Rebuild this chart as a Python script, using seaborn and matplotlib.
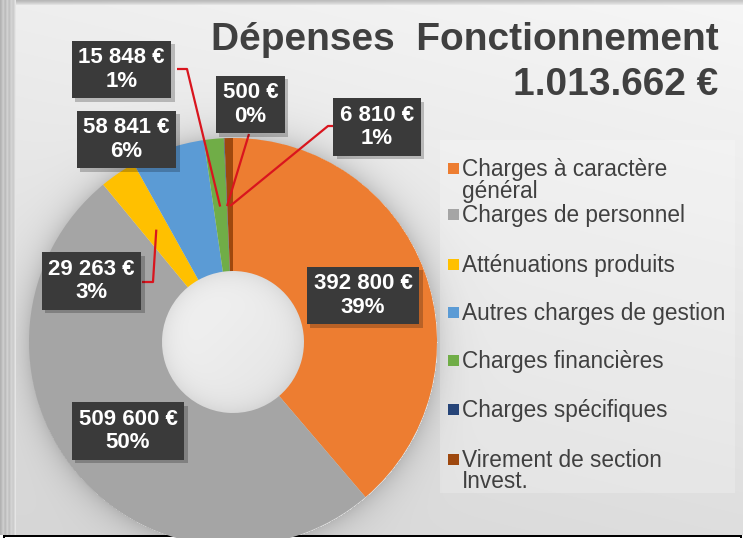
import numpy as np
import matplotlib
matplotlib.use("Agg")
import matplotlib.pyplot as plt
import matplotlib.patheffects as pe
import seaborn as sns
from matplotlib.patches import Rectangle

# ---------------- data ----------------
categories = ["Charges à caractère général", "Charges de personnel", "Atténuations produits",
              "Autres charges de gestion", "Charges financières", "Charges spécifiques",
              "Virement de section Invest."]
legend_labels = ["Charges à caractère\ngénéral", "Charges de personnel", "Atténuations produits",
                 "Autres charges de gestion", "Charges financières", "Charges spécifiques",
                 "Virement de section\nInvest."]
values = [392800, 509600, 29263, 58841, 15848, 500, 6810]
pct_labels = ["39%", "50%", "3%", "6%", "1%", "0%", "1%"]
colors = ["#ED7D31", "#A5A5A5", "#FFC000", "#5B9BD5", "#70AD47", "#264478", "#9E480E"]
title_line1 = "Dépenses  Fonctionnement"
title_line2 = "1.013.662 €"

# ---------------- layout (pixel coordinates, y from top) ----------------
W, H = 743, 538
CX, CY = 233, 342
R_OUT, R_IN = 204, 71
label_centers = [(363, 295.5), (128, 431), (91.5, 281), (126.5, 139.5),
                 (121.5, 69.5), (250.5, 104.5), (377, 127)]
leader_starts = {2: [(142, 282), (153, 282)], 4: [(177, 69), (187, 69)],
                 5: [(249, 134)], 6: [(333, 126), (328, 126)]}
legend_line_baselines = [[176, 198], [222], [272], [320], [368], [417], [467, 488]]

sns.set_theme(style="white")
plt.rcParams["font.family"] = ["Liberation Sans", "DejaVu Sans"]
palette = sns.color_palette(colors)

fig = plt.figure(figsize=(W / 100, H / 100), dpi=100)
ax = fig.add_axes([0, 0, 1, 1])


def Y(y):
    return H - y


# ---------------- background image ----------------
yy, xx = np.mgrid[0:H, 0:W].astype(float)
v = 0.75 * (1 - yy / 533) + 0.25 * (xx / 743)
bg = 0.84 + v * (0.965 - 0.84)
# donut shadow
d = np.hypot(xx - CX, yy - CY)
sh = np.where(d > R_OUT, 0.16 * np.exp(-(d - R_OUT) / 14.0), 0.0)
bg = bg * (1 - sh)
# hole shading
t = ((xx - CX) + (yy - CY)) / (2 * R_IN)
hole = 0.925 - 0.035 * t - 0.07 * np.clip(d / R_IN, 0, 1) ** 6
bg = np.where(d < R_IN + 1, hole, bg)
# left strip and top strip
stripes = np.array([0.70, 0.73, 0.78, 0.80, 0.76, 0.74, 0.79, 0.82, 0.78,
                    0.76, 0.80, 0.83, 0.81, 0.80, 0.85, 0.90])
for i, s in enumerate(stripes):
    bg[:535, i] = s
for j, s in enumerate([0.72, 0.75, 0.79, 0.83, 0.88]):
    bg[j, 16:] = s + (1 - s) * 0.2 * (np.arange(16, W) / W)
# bottom strip
bg[535:, :] = 1.0
bg[535:537, 3:742] = 0.0
bg[535:, 3:5] = 0.0
bg[535:, 740:742] = 0.0
rgb = np.dstack([bg, bg, bg])
ax.imshow(rgb, extent=(0, W, 0, H), origin="upper", zorder=0, interpolation="bilinear")

# legend panel (slightly lighter)
ax.add_patch(Rectangle((440, Y(493)), 295, 353, facecolor="white", alpha=0.22,
                       edgecolor="none", zorder=1))

# ---------------- donut ----------------
wedges, _ = ax.pie(values, colors=palette, startangle=90, counterclock=False,
                   radius=R_OUT, center=(CX, Y(CY)),
                   wedgeprops=dict(width=R_OUT - R_IN, edgecolor="none"))
for w in wedges:
    w.set_zorder(2)
ax.set_xlim(0, W)
ax.set_ylim(0, H)
ax.set_aspect("auto")
ax.axis("off")

# ---------------- data labels ----------------
total = float(sum(values))
fr = np.array(values) / total
mid = np.cumsum(fr) - fr / 2
theta = np.deg2rad(90 - 360 * mid)
r_anchor = 0.667 * R_OUT
for i, (val, pct) in enumerate(zip(values, pct_labels)):
    cx, cy = label_centers[i]
    txt = f"{val:,}".replace(",", " ") + " €\n" + pct
    if i in leader_starts:
        pts = leader_starts[i]
        xs = [p[0] for p in pts] + [CX + r_anchor * np.cos(theta[i])]
        ys = [Y(p[1]) for p in pts] + [Y(CY) + r_anchor * np.sin(theta[i])]
        ax.plot(xs, ys, color="#d9151e", lw=1.6, zorder=3, solid_capstyle="butt")
    t_obj = ax.text(cx, Y(cy), txt, ha="center", va="center", fontsize=16,
                    fontweight="bold", color="white", linespacing=1.15, zorder=5,
                    bbox=dict(boxstyle="square,pad=0.3", fc="#3a3a3a", ec="none"))
    t_obj.get_bbox_patch().set_path_effects(
        [pe.withSimplePatchShadow(offset=(2.5, -2.5), shadow_rgbFace="black", alpha=0.22),
         pe.Normal()])

# ---------------- legend ----------------
for i, lab in enumerate(legend_labels):
    lines = lab.split("\n")
    bases = legend_line_baselines[i]
    ax.add_patch(Rectangle((448, Y(bases[0] - 8) - 5.5), 11, 11, facecolor=palette[i],
                           edgecolor="none", zorder=3))
    for line, b in zip(lines, bases):
        ax.text(462, Y(b), line, ha="left", va="baseline", fontsize=16.3,
                color="#404040", zorder=3)

# ---------------- title ----------------
ax.text(719, Y(50), title_line1, ha="right", va="baseline", fontsize=28,
        fontweight="bold", color="#404040", zorder=3)
ax.text(718, Y(95), title_line2, ha="right", va="baseline", fontsize=28,
        fontweight="bold", color="#404040", zorder=3)

fig.savefig("out.png", dpi=100)
